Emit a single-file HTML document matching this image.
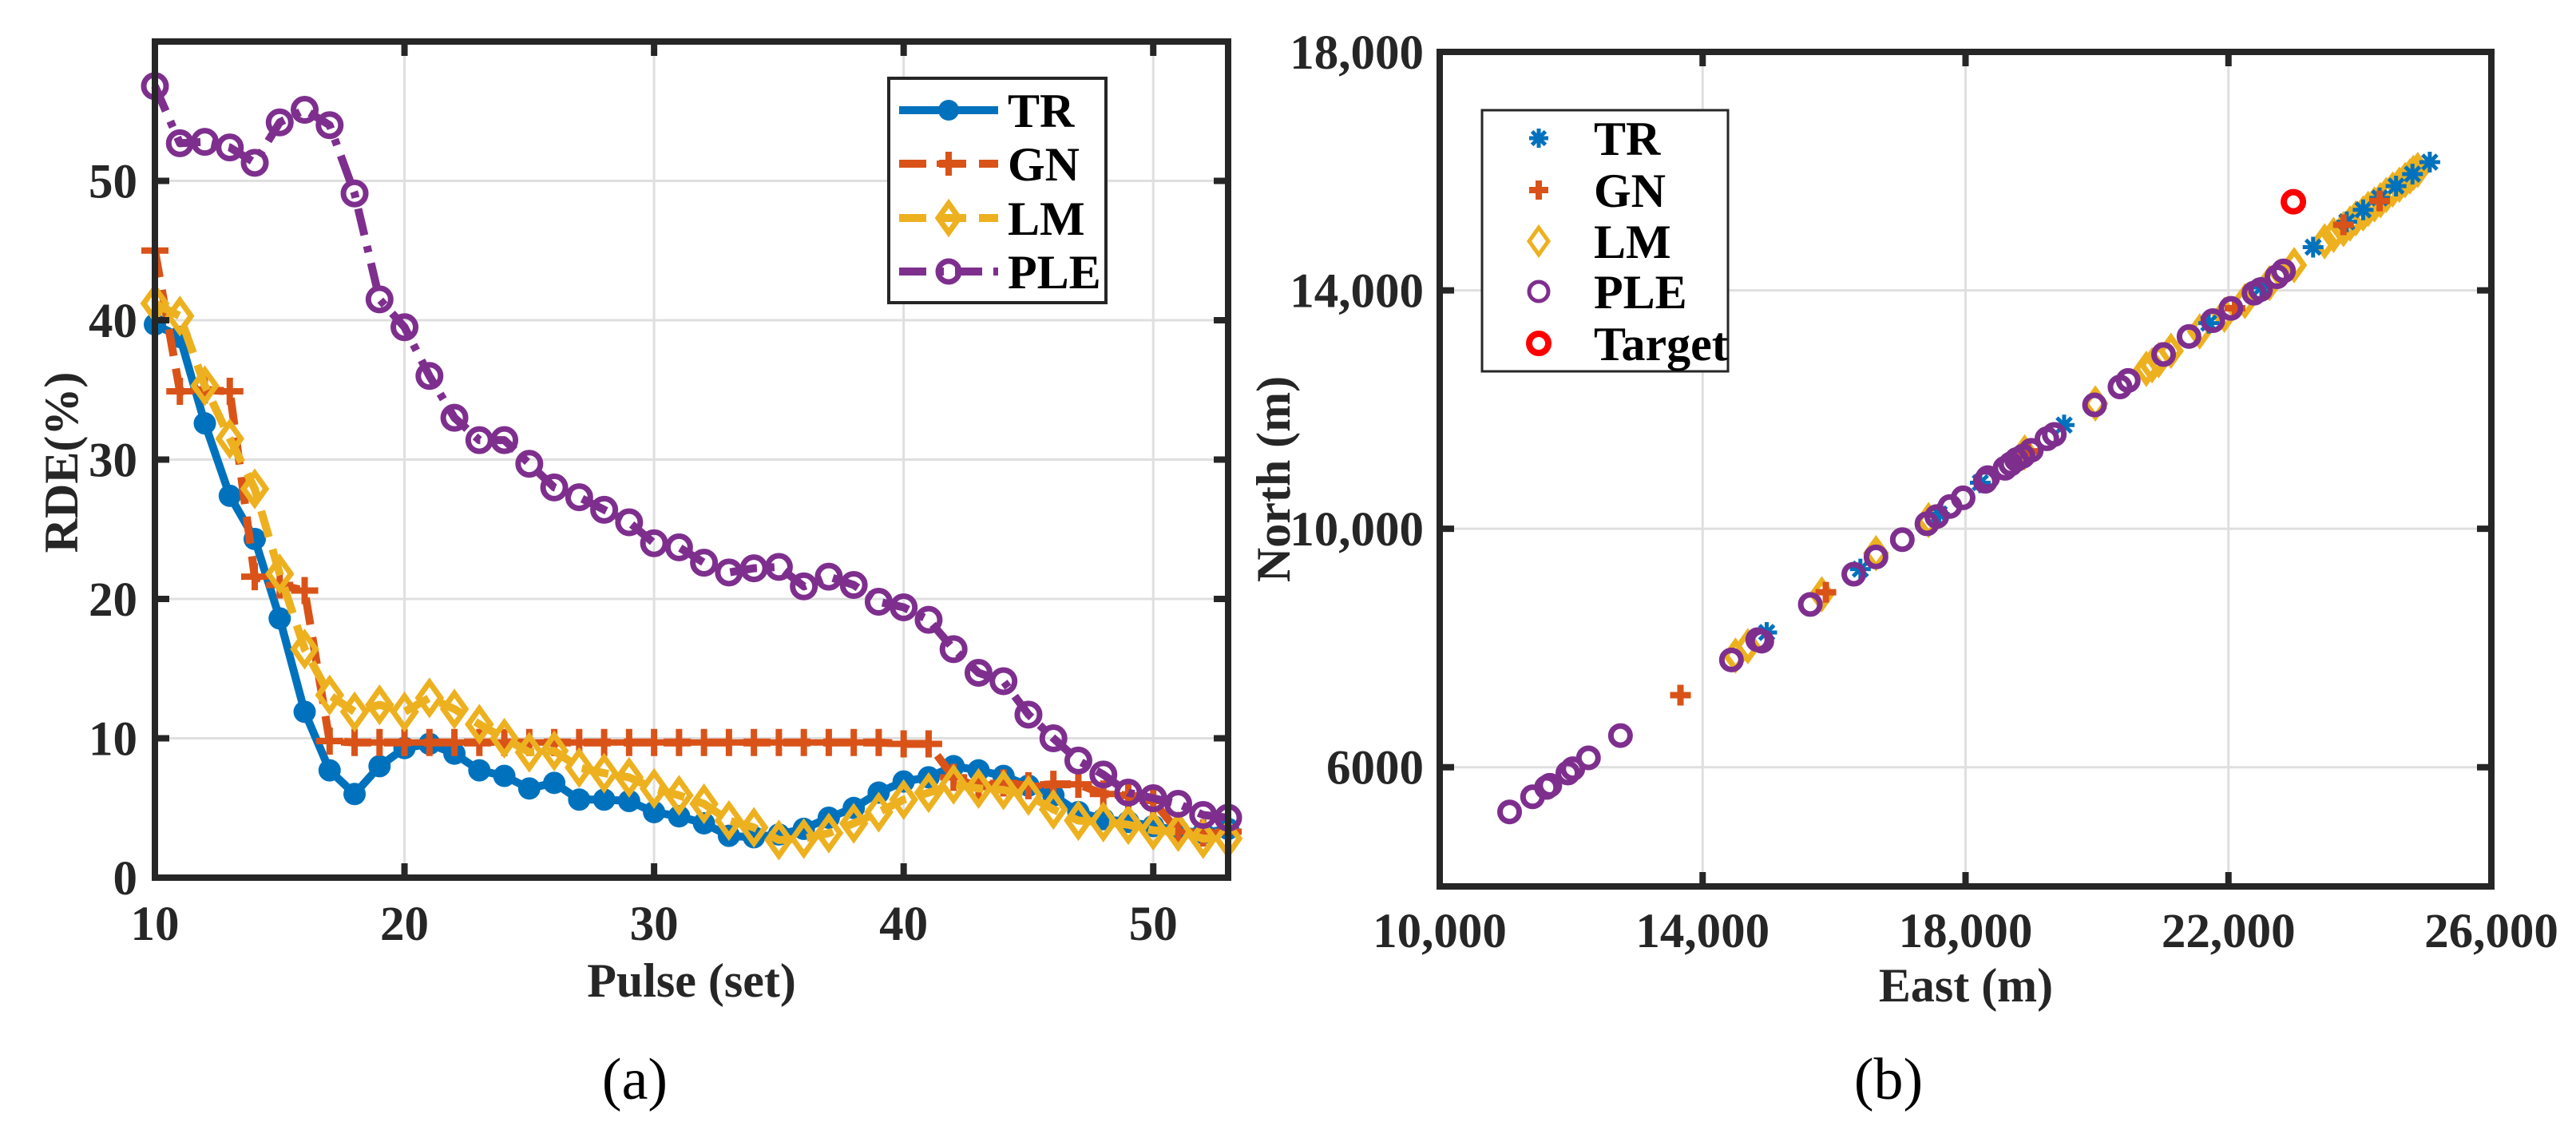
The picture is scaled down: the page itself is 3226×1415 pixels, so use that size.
<!DOCTYPE html>
<html><head><meta charset="utf-8">
<style>
html,body{margin:0;padding:0;background:#fff;}
svg{display:block;}
text{font-family:"Liberation Serif",serif;}
</style></head>
<body>
<svg id="fig" width="3226" height="1415" viewBox="0 0 3226 1415" xmlns="http://www.w3.org/2000/svg"></svg>
<script>
// ---------- Chart (a) data ----------
const pulses = [10,11,12,13,14,15,16,17,18,19,20,21,22,23,24,25,26,27,28,29,30,31,32,33,34,35,36,37,38,39,40,41,42,43,44,45,46,47,48,49,50,51,52,53];
const trValues = [39.7,38.8,32.6,27.4,24.3,18.6,11.9,7.7,6.0,8.0,9.3,9.6,8.9,7.7,7.3,6.4,6.8,5.6,5.6,5.5,4.7,4.4,3.9,3.0,2.9,3.1,3.5,4.3,5.0,6.1,6.9,7.2,8.0,7.7,7.3,6.6,5.9,4.7,4.2,4.0,3.7,3.4,3.2,3.5];
const gnValues = [45.0,34.9,35.0,34.9,21.6,21.0,20.6,9.8,9.7,9.7,9.7,9.7,9.7,9.7,9.7,9.7,9.7,9.7,9.7,9.7,9.7,9.7,9.7,9.7,9.7,9.7,9.7,9.7,9.7,9.7,9.6,9.6,7.2,6.5,6.8,6.6,6.7,6.7,6.0,5.9,5.5,3.3,3.2,3.3];
const lmValues = [41.2,40.3,35.3,31.5,27.9,21.8,16.4,13.1,11.9,12.4,11.9,12.9,12.1,11.0,10.0,9.0,9.1,7.9,7.5,7.2,6.4,5.9,5.3,4.1,3.6,2.7,2.8,3.2,3.9,4.7,5.6,6.1,6.7,6.4,6.3,5.9,4.9,4.1,4.0,3.8,3.4,3.3,2.8,2.8];
const pleValues = [56.8,52.7,52.8,52.4,51.3,54.2,55.1,54.0,49.1,41.5,39.5,36.0,33.0,31.4,31.4,29.7,28.0,27.3,26.4,25.5,24.0,23.7,22.6,21.9,22.2,22.3,20.9,21.6,21.0,19.8,19.4,18.5,16.4,14.7,14.1,11.7,10.0,8.4,7.4,6.1,5.7,5.3,4.5,4.3];
const xTicksA = [10,20,30,40,50];
const yTicksA = [0,10,20,30,40,50];

// ---------- Chart (b) data ----------
const pleEast = [11063,11413,11625,11675,11950,12025,12263,12750,14438,14838,14900,15638,16300,16638,17038,17413,17563,17763,17963,18300,18338,18600,18688,18775,18875,19000,19238,19350,19963,20350,20475,21013,21400,21763,22038,22388,22488,22738,22838];
const pleNorth = [5250,5504,5661,5697,5903,5975,6157,6531,7800,8139,8115,8731,9238,9528,9818,10084,10205,10374,10519,10797,10858,11015,11087,11160,11220,11317,11510,11583,12078,12380,12489,12924,13226,13492,13698,13952,14012,14229,14326];
const lmEast = [14500,14688,15813,16638,17438,18900,19975,20750,20838,20938,21125,21563,21938,22250,22625,23000,23463,23600,23750,23850,23938,24050,24125,24220,24313,24400,24500,24600,24688,24760,24813,24880];
const lmNorth = [7873,8030,8900,9590,10145,11280,12102,12683,12743,12828,12985,13311,13589,13819,14121,14423,14822,14930,15027,15120,15208,15290,15366,15440,15511,15600,15692,15770,15849,15910,15970,16020];
const trEast = [14975,16400,17600,18225,19500,21700,22500,23288,23800,24050,24300,24550,24800,25063];
const trNorth = [8260,9323,10250,10773,11740,13450,14050,14725,15150,15350,15550,15750,15950,16151];
const gnEast = [13663,15875,18950,22100,23750,24300];
const gnNorth = [7208,8936,11300,13700,15100,15500];
const targetEast = [22988];
const targetNorth = [15486];
const xTicksB = [10000,14000,18000,22000,26000];
const xTickLabelsB = ["10,000","14,000","18,000","22,000","26,000"];
const yTicksB = [6000,10000,14000,18000];
const yTickLabelsB = ["6000","10,000","14,000","18,000"];

const NS = "http://www.w3.org/2000/svg";
const svg = document.getElementById('fig');
function mk(tag, attrs, parent){
  const e = document.createElementNS(NS, tag);
  for (const k in attrs) e.setAttribute(k, attrs[k]);
  (parent||svg).appendChild(e);
  return e;
}
const C = {tr:'#0072BD', gn:'#D95319', lm:'#EDB120', ple:'#7E2F8E', tg:'#FF0000', ax:'#262626', grid:'#DFDFDF'};

function marker(g, type, x, y, color, sz){
  let e;
  if (type==='o'){ e = mk('circle',{cx:x,cy:y,r:sz,fill:'none',stroke:color,'stroke-width':7},g); }
  else if (type==='dot'){ e = mk('circle',{cx:x,cy:y,r:sz,fill:color},g); }
  else if (type==='d'){ e = mk('polygon',{points:`${x},${y-sz*1.4} ${x+sz},${y} ${x},${y+sz*1.4} ${x-sz},${y}`,fill:'none',stroke:color,'stroke-width':7},g); }
  else if (type==='+'){ e = mk('path',{d:`M${x-sz},${y}H${x+sz}M${x},${y-sz}V${y+sz}`,stroke:color,'stroke-width':8,fill:'none'},g); }
  else if (type==='*'){ const s=sz, t=sz*0.7; e = mk('path',{d:`M${x-s},${y}H${x+s}M${x},${y-s}V${y+s}M${x-t},${y-t}L${x+t},${y+t}M${x-t},${y+t}L${x+t},${y-t}`,stroke:color,'stroke-width':5,fill:'none'},g); }
  return e;
}

// ================= Chart (a) =================
const A = {l:194, r:1538, t:52, b:1099, x0:10, x1:53, y0:0, y1:60};
const xa = v => A.l + (v-A.x0)/(A.x1-A.x0)*(A.r-A.l);
const ya = v => A.b - (v-A.y0)/(A.y1-A.y0)*(A.b-A.t);
const gA = mk('g',{});  
const gridA = mk('g',{},gA);  
xTicksA.forEach(v=>{ mk('line',{x1:xa(v),x2:xa(v),y1:A.t,y2:A.b,stroke:C.grid,'stroke-width':3},gridA); });
yTicksA.forEach(v=>{ mk('line',{x1:A.l,x2:A.r,y1:ya(v),y2:ya(v),stroke:C.grid,'stroke-width':3},gridA); });

const seriesA = [
  {name:'tr', vals:trValues, color:C.tr, dash:'', m:'dot', ms:14},
  {name:'gn', vals:gnValues, color:C.gn, dash:'34 16', m:'+', ms:17},
  {name:'lm', vals:lmValues, color:C.lm, dash:'34 16', m:'d', ms:14},
  {name:'ple', vals:pleValues, color:C.ple, dash:'34 14 8 14', m:'o', ms:14},
];
seriesA.forEach(s=>{
  const g = mk('g',{},gA);
  
  
  const d = s.vals.map((v,i)=>(i?'L':'M')+xa(pulses[i]).toFixed(1)+','+ya(v).toFixed(1)).join('');
  const p = mk('path',{d:d,fill:'none',stroke:s.color,'stroke-width':10,'stroke-dasharray':s.dash,'stroke-linejoin':'round'},g);
  
  
  s.vals.forEach((v,i)=>{
    const m = marker(g, s.m, xa(pulses[i]), ya(v), s.color, s.ms);
    
    
  });
});
const axA = mk('g',{},gA);  
mk('rect',{x:A.l,y:A.t,width:A.r-A.l,height:A.b-A.t,fill:'none',stroke:C.ax,'stroke-width':8},axA);
xTicksA.forEach(v=>{
  mk('line',{x1:xa(v),x2:xa(v),y1:A.b,y2:A.b-18,stroke:C.ax,'stroke-width':8},axA);
  mk('line',{x1:xa(v),x2:xa(v),y1:A.t,y2:A.t+18,stroke:C.ax,'stroke-width':8},axA);
  const t = mk('text',{x:xa(v),y:1177,'font-size':61,'font-weight':'bold','text-anchor':'middle',fill:C.ax},axA);
  t.textContent = v;
  
  
});
yTicksA.forEach(v=>{
  mk('line',{x1:A.l,x2:A.l+18,y1:ya(v),y2:ya(v),stroke:C.ax,'stroke-width':8},axA);
  mk('line',{x1:A.r,x2:A.r-18,y1:ya(v),y2:ya(v),stroke:C.ax,'stroke-width':8},axA);
  const t = mk('text',{x:172,y:ya(v)+21,'font-size':61,'font-weight':'bold','text-anchor':'end',fill:C.ax},axA);
  t.textContent = v;
  
  
});
const lgA = mk('g',{},gA);  
mk('rect',{x:1113,y:98,width:272,height:281,fill:'#fff',stroke:C.ax,'stroke-width':4},lgA);
const legA = [['TR',C.tr,'','dot',13,138],['GN',C.gn,'34 16','+',15,205],['LM',C.lm,'34 16','d',13,273],['PLE',C.ple,'34 14 8 14','o',13,340]];
legA.forEach(e=>{
  const g = mk('g',{},lgA);  
  mk('line',{x1:1126,x2:1250,y1:e[5],y2:e[5],stroke:e[1],'stroke-width':10,'stroke-dasharray':e[2]},g);
  marker(g,e[3],1188,e[5],e[1],e[4]);
  const t = mk('text',{x:1262,y:e[5]+21,'font-size':60,'font-weight':'bold',fill:'#000'},g); t.textContent=e[0];
});
const xlA = mk('text',{x:866,y:1248,'font-size':60,'font-weight':'bold','text-anchor':'middle',fill:C.ax},gA);
xlA.textContent='Pulse (set)';  
const ylA = mk('text',{x:0,y:0,'font-size':60,'font-weight':'bold','text-anchor':'middle',fill:C.ax,transform:'translate(97,579) rotate(-90)'},gA);
ylA.textContent='RDE(%)';  
const capA = mk('text',{x:795,y:1376,'font-size':74,'text-anchor':'middle',fill:'#000'},gA);
capA.textContent='(a)';  

// ================= Chart (b) =================
const B = {l:1803, r:3120, t:65, b:1110, x0:10000, x1:26000, y0:4000, y1:18000};
const xb = v => B.l + (v-B.x0)/(B.x1-B.x0)*(B.r-B.l);
const yb = v => B.b - (v-B.y0)/(B.y1-B.y0)*(B.b-B.t);
const gB = mk('g',{});  
const gridB = mk('g',{},gB);  
xTicksB.forEach(v=>{ mk('line',{x1:xb(v),x2:xb(v),y1:B.t,y2:B.b,stroke:C.grid,'stroke-width':3},gridB); });
yTicksB.forEach(v=>{ mk('line',{x1:B.l,x2:B.r,y1:yb(v),y2:yb(v),stroke:C.grid,'stroke-width':3},gridB); });
const seriesB = [
  {name:'lm', xs:lmEast, ys:lmNorth, color:C.lm, m:'d', ms:12},
  {name:'tr', xs:trEast, ys:trNorth, color:C.tr, m:'*', ms:13},
  {name:'gn', xs:gnEast, ys:gnNorth, color:C.gn, m:'+', ms:13},
  {name:'ple', xs:pleEast, ys:pleNorth, color:C.ple, m:'o', ms:12},
  {name:'target', xs:targetEast, ys:targetNorth, color:C.tg, m:'o', ms:12},
];
seriesB.forEach(s=>{
  const g = mk('g',{},gB);
  
  
  s.xs.forEach((v,i)=>{
    const m = marker(g, s.m, xb(v), yb(s.ys[i]), s.color, s.ms);
    if (s.name==='target') m.setAttribute('stroke-width',8);
    
    
  });
});
const axB = mk('g',{},gB);  
mk('rect',{x:B.l,y:B.t,width:B.r-B.l,height:B.b-B.t,fill:'none',stroke:C.ax,'stroke-width':8},axB);
xTicksB.forEach((v,i)=>{
  mk('line',{x1:xb(v),x2:xb(v),y1:B.b,y2:B.b-18,stroke:C.ax,'stroke-width':8},axB);
  mk('line',{x1:xb(v),x2:xb(v),y1:B.t,y2:B.t+18,stroke:C.ax,'stroke-width':8},axB);
  const t = mk('text',{x:xb(v),y:1186,'font-size':61,'font-weight':'bold','text-anchor':'middle',fill:C.ax},axB);
  t.textContent = xTickLabelsB[i];
  
  
});
yTicksB.forEach((v,i)=>{
  mk('line',{x1:B.l,x2:B.l+18,y1:yb(v),y2:yb(v),stroke:C.ax,'stroke-width':8},axB);
  mk('line',{x1:B.r,x2:B.r-18,y1:yb(v),y2:yb(v),stroke:C.ax,'stroke-width':8},axB);
  const t = mk('text',{x:1783,y:yb(v)+21,'font-size':61,'font-weight':'bold','text-anchor':'end',fill:C.ax},axB);
  t.textContent = yTickLabelsB[i];
  
  
});
const lgB = mk('g',{},gB);  
mk('rect',{x:1856,y:138,width:308,height:327,fill:'#fff',stroke:C.ax,'stroke-width':3},lgB);
const legB = [['TR',C.tr,'*',12,173],['GN',C.gn,'+',12,238],['LM',C.lm,'d',12,302],['PLE',C.ple,'o',12,365],['Target',C.tg,'o',12,430]];
legB.forEach(e=>{
  const g = mk('g',{},lgB);  
  const m = marker(g,e[2],1927,e[4],e[1],e[3]);
  if (e[0]==='Target') m.setAttribute('stroke-width',8);
  if (e[0]==='PLE' || e[0]==='LM') m.setAttribute('stroke-width',5);
  const t = mk('text',{x:1996,y:e[4]+21,'font-size':60,'font-weight':'bold',fill:'#000'},g); t.textContent=e[0];
});
const xlB = mk('text',{x:2462,y:1254,'font-size':60,'font-weight':'bold','text-anchor':'middle',fill:C.ax},gB);
xlB.textContent='East (m)';  
const ylB = mk('text',{x:0,y:0,'font-size':60,'font-weight':'bold','text-anchor':'middle',fill:C.ax,transform:'translate(1615,600) rotate(-90)'},gB);
ylB.textContent='North (m)';  
const capB = mk('text',{x:2365,y:1376,'font-size':74,'text-anchor':'middle',fill:'#000'},gB);
capB.textContent='(b)';  
</script>
</body></html>
